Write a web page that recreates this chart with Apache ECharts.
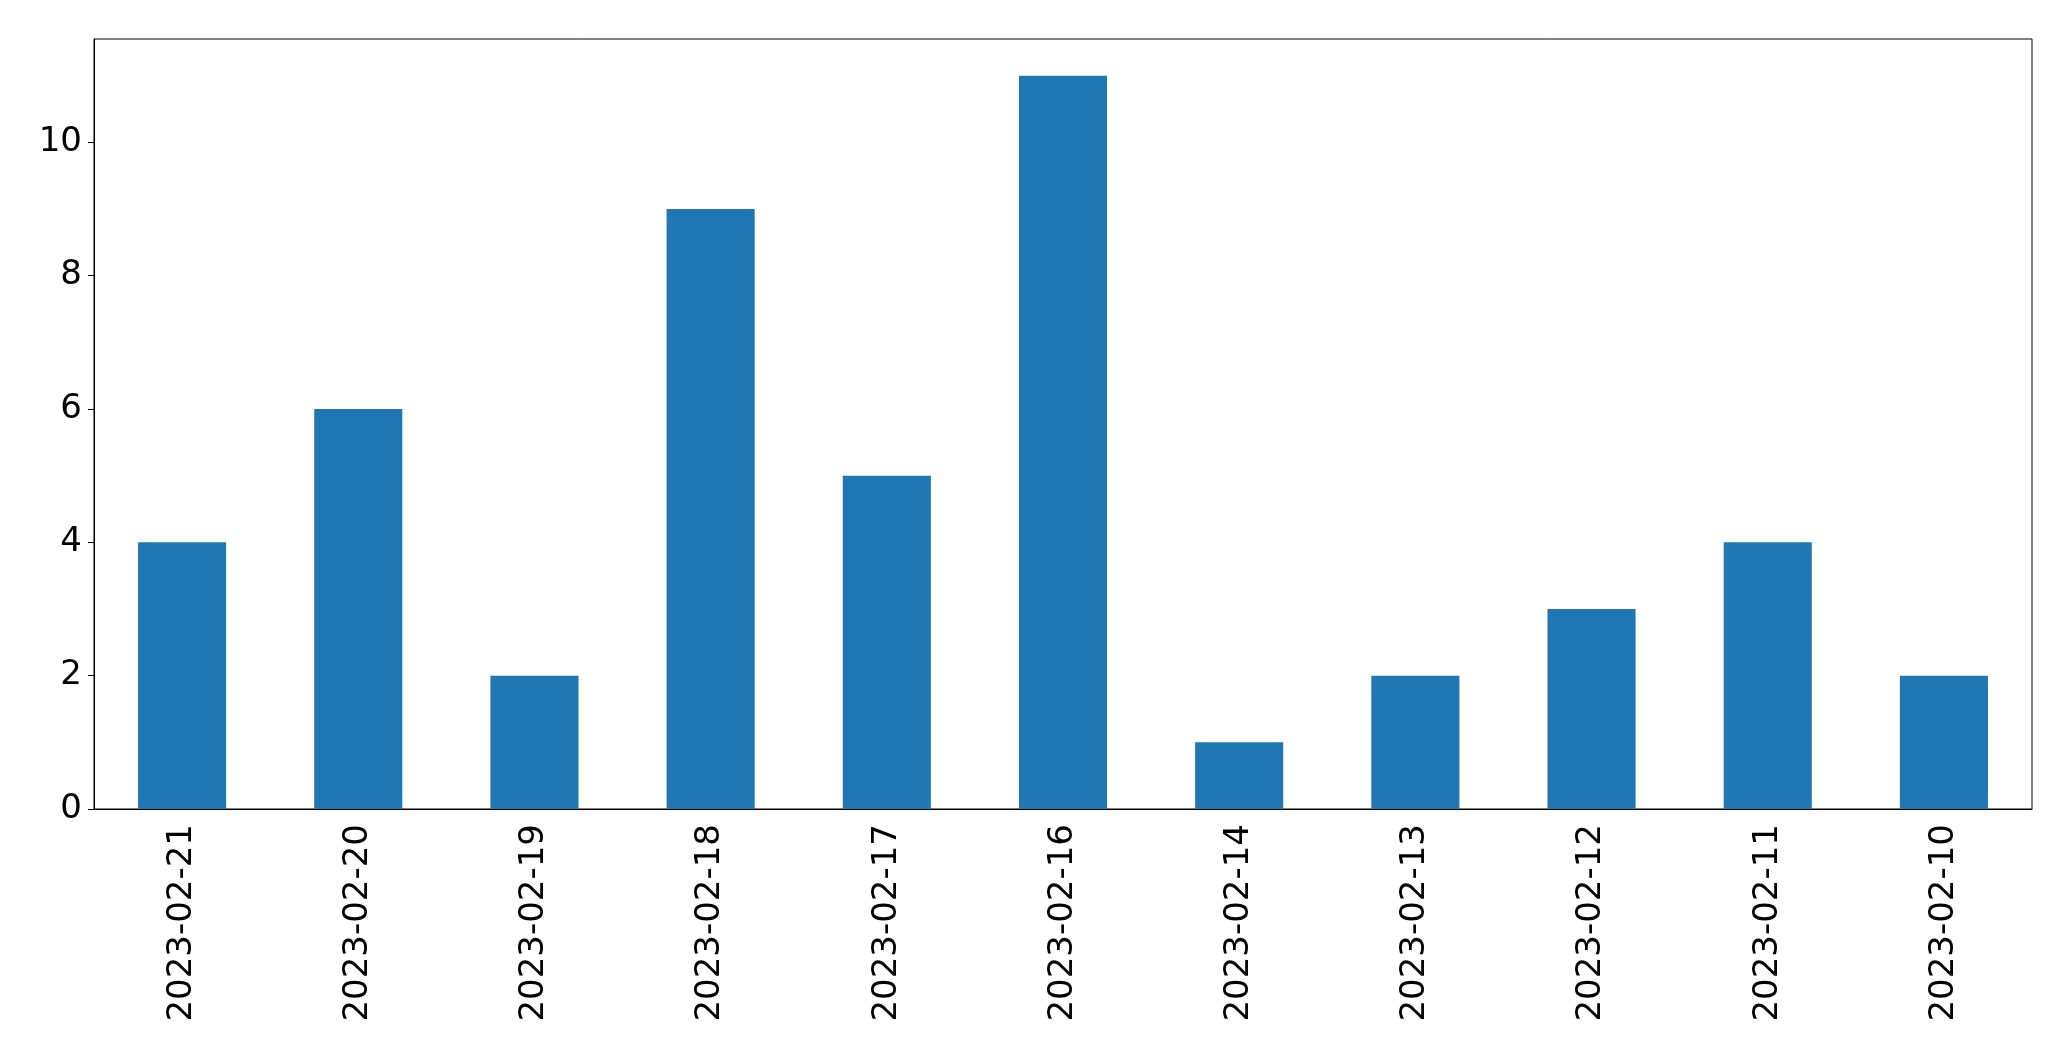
<!DOCTYPE html>
<html><head><meta charset="utf-8">
<script src="https://cdn.jsdelivr.net/npm/echarts@6/dist/echarts.min.js"></script>
<style>html,body{margin:0;padding:0;background:#fff}#c{width:2071px;height:1061px}</style>
</head><body><div id="c"></div>
<script>
const categories = ['2023-02-21','2023-02-20','2023-02-19','2023-02-18','2023-02-17','2023-02-16','2023-02-14','2023-02-13','2023-02-12','2023-02-11','2023-02-10'];
const values = [4,6,2,9,5,11,1,2,3,4,2];
const yTicks = [0,2,4,6,8,10];
const yMax = 11.55;

const chart = echarts.init(document.getElementById('c'), null, {renderer:'canvas'});
chart.setOption({
  animation:false,
  backgroundColor:'#fff',
  grid:{left:94,top:39,right:39,bottom:252,show:true,borderColor:'#000',borderWidth:1,backgroundColor:'transparent'},
  xAxis:{
    type:'category', data:categories, boundaryGap:true,
    axisLine:{lineStyle:{color:'#000',width:1}},
    axisTick:{alignWithLabel:true,inside:false,length:6,lineStyle:{color:'#000',width:1}},
    axisLabel:{rotate:90,interval:0,margin:15,color:'#000',fontSize:34,fontFamily:'DejaVu Sans'}
  },
  yAxis:{
    type:'value', min:0, max:yMax,
    splitLine:{show:false},
    axisLine:{show:true,lineStyle:{color:'#000',width:1}},
    axisTick:{show:true,inside:false,length:6,customValues:yTicks,lineStyle:{color:'#000',width:1}},
    axisLabel:{customValues:yTicks,margin:12,color:'#000',fontSize:34,fontFamily:'DejaVu Sans'}
  },
  series:[{type:'bar',data:values,barWidth:'50%',itemStyle:{color:'#1f77b4'}}]
});
</script></body></html>
